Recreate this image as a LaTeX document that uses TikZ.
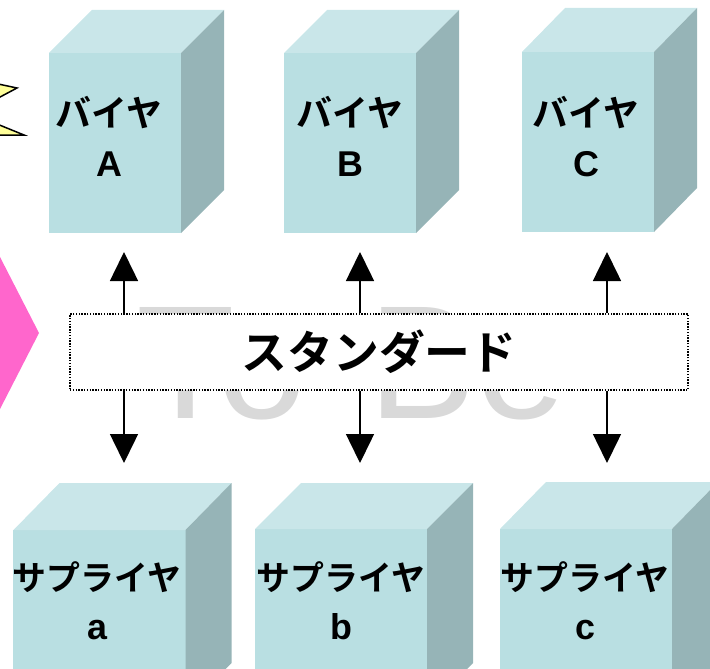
\documentclass[tikz,border=0pt]{standalone}
\usepackage{fontspec}
\setmainfont{Liberation Sans}
\newfontfamily\jpfont{Noto Sans CJK JP Bold}
\usetikzlibrary{arrows.meta}
\definecolor{frontc}{HTML}{B9DFE2}
\definecolor{topc}{HTML}{C9E6E9}
\definecolor{sidec}{HTML}{96B4B7}
\definecolor{pinkc}{HTML}{FF66CC}
\definecolor{starc}{HTML}{FFFF99}
\definecolor{ghost}{HTML}{D9D9D9}
\newcommand\cubefaces[3]{%
  \fill[topc] (#1.north west) -- ++(#2,-#3) -- ([shift={(#2,-#3)}]#1.north east) -- (#1.north east) -- cycle;
  \fill[sidec] (#1.north east) -- ++(#2,-#3) -- ([shift={(#2,-#3)}]#1.south east) -- (#1.south east) -- cycle;
}
\begin{document}
\begin{tikzpicture}[x=1bp,y=-1bp,
  face/.style={fill=frontc, draw=none, inner sep=0pt, outer sep=0pt},
  buyer/.style={face, minimum width=132bp, minimum height=180bp},
  supplier/.style={face, minimum width=172bp, minimum height=180bp},
  jp/.style={font=\jpfont\fontsize{36}{40}\selectfont, inner sep=0pt, anchor=base},
  jps/.style={font=\jpfont\fontsize{34}{40}\selectfont, inner sep=0pt, anchor=base},
  lat/.style={font=\bfseries\fontsize{36}{40}\selectfont, inner sep=0pt, anchor=base},
  link/.style={line width=1.5bp, -{Triangle[width=28bp,length=29bp]}},
  stdbox/.style={draw, line width=1.2bp, dash pattern=on 1.4bp off 1.4bp, fill=white,
    minimum width=618bp, minimum height=76bp, inner sep=0pt,
    font=\jpfont\fontsize{46}{52}\selectfont},
]
\useasboundingbox (0,0) rectangle (710,669);
\clip (0,0) rectangle (710,669);

% left decorations
\filldraw[fill=starc, draw=black, line width=1.5bp, line join=miter]
  (-30,78) -- (17,88) -- (-30,113) -- (24,135) -- (-30,135) -- cycle;
\fill[pinkc] (-20,218) -- (39,333) -- (-20,448) -- cycle;

% background watermark
\node[font=\fontsize{162}{170}\selectfont, text=ghost, inner sep=0pt, anchor=base west]
  (tobe) at (136,418) {To\hspace{62bp}Be};

% standard box and arrows
\node[stdbox] (std) at (379,352) {スタンダード};
\coordinate (upA) at (124,252);
\coordinate (upB) at (360,252);
\coordinate (upC) at (607,252);
\coordinate (dnA) at (124,463);
\coordinate (dnB) at (360,463);
\coordinate (dnC) at (607,463);
\draw[link] (std.north -| upA) -- (upA);
\draw[link] (std.north -| upB) -- (upB);
\draw[link] (std.north -| upC) -- (upC);
\draw[link] (std.south -| dnA) -- (dnA);
\draw[link] (std.south -| dnB) -- (dnB);
\draw[link] (std.south -| dnC) -- (dnC);

% buyers
\node[buyer] (bA) at (115,143) {};
\cubefaces{bA}{43}{43}
\node[buyer] (bB) at (350,143) {};
\cubefaces{bB}{43}{43}
\node[buyer] (bC) at (588,142) {};
\cubefaces{bC}{43}{44}
\node[jp] (bA1) at (109,127) {バイヤ};
\node[lat] (bA2) at (109,176) {A};
\node[jp] (bB1) at (350,127) {バイヤ};
\node[lat] (bB2) at (350,176) {B};
\node[jp] (bC1) at (586,127) {バイヤ};
\node[lat] (bC2) at (586,176) {C};

% suppliers
\node[supplier] (sa) at (99.5,620) {};
\cubefaces{sa}{46}{47}
\node[supplier] (sb) at (341,619) {};
\cubefaces{sb}{46}{46}
\node[supplier] (sc) at (586,619) {};
\cubefaces{sc}{46}{47}
\node[jps] (sa1) at (97,590) {サプライヤ};
\node[lat] (sa2) at (97,639) {a};
\node[jps] (sb1) at (341,590) {サプライヤ};
\node[lat] (sb2) at (341,639) {b};
\node[jps] (sc1) at (585,590) {サプライヤ};
\node[lat] (sc2) at (585,639) {c};
\end{tikzpicture}
\end{document}
